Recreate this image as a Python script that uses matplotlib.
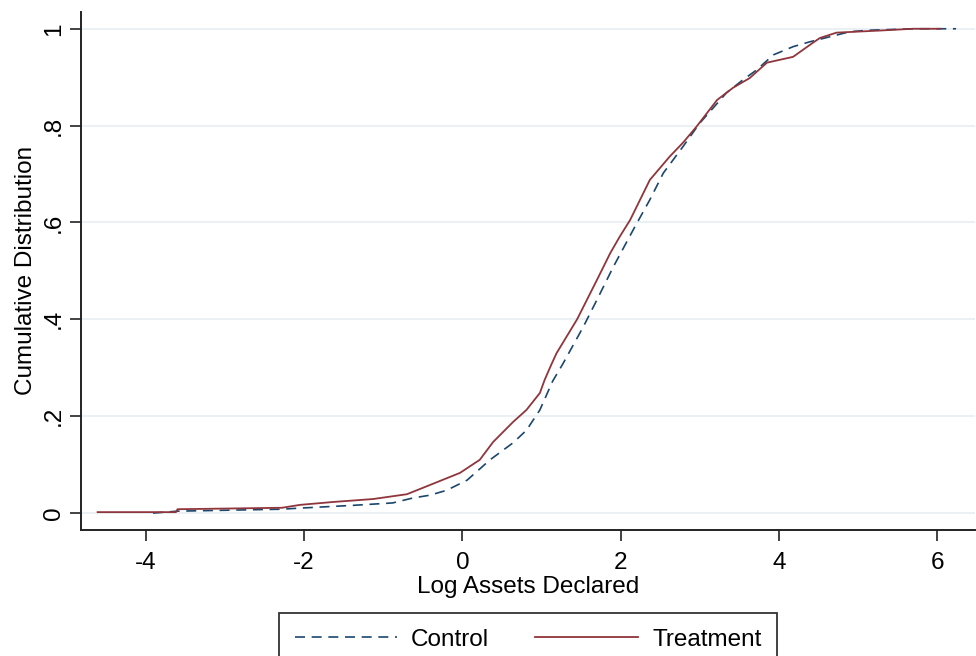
import numpy as np
import matplotlib.pyplot as plt

# Cumulative distribution of log assets
x_ctrl = [-3.91, -3.60, -2.30, -1.97, -1.38, -0.88, -0.63, -0.41, -0.20, 0.06, 0.35,
          0.64, 0.81, 0.98, 1.14, 1.27, 1.53, 1.70, 1.91, 2.16, 2.37, 2.54, 2.79,
          3.00, 3.34, 3.55, 3.72, 3.93, 4.18, 4.39, 4.90, 5.15, 5.70, 6.24]
F_ctrl = [0.000, 0.004, 0.008, 0.011, 0.016, 0.021, 0.031, 0.037, 0.047, 0.068, 0.110,
          0.145, 0.171, 0.213, 0.272, 0.308, 0.385, 0.440, 0.509, 0.585, 0.647, 0.702, 0.757,
          0.805, 0.868, 0.895, 0.915, 0.946, 0.963, 0.973, 0.994, 0.997, 1.000, 1.000]

x_treat = [-4.61, -3.62, -3.60, -2.28, -2.05, -1.63, -1.13, -0.70, -0.41, -0.03, 0.22,
           0.39, 0.64, 0.81, 0.98, 1.04, 1.12, 1.19, 1.45, 1.70, 1.87, 1.99, 2.12, 2.37,
           2.62, 2.79, 2.96, 3.22, 3.42, 3.63, 3.85, 4.18, 4.43, 4.52, 4.73, 5.24, 5.70, 6.04]
F_treat = [0.002, 0.002, 0.008, 0.011, 0.017, 0.023, 0.029, 0.039, 0.058, 0.083, 0.110,
           0.147, 0.188, 0.213, 0.248, 0.275, 0.305, 0.330, 0.400, 0.481, 0.537, 0.571, 0.605, 0.688,
           0.736, 0.765, 0.798, 0.853, 0.878, 0.898, 0.930, 0.942, 0.971, 0.981, 0.992, 0.996, 1.000, 1.000]

xticks = [-4, -2, 0, 2, 4, 6]
yticks = [0, 0.2, 0.4, 0.6, 0.8, 1]
ylabels = ['0', '.2', '.4', '.6', '.8', '1']

plt.rcParams['font.family'] = ['Liberation Sans', 'DejaVu Sans']
plt.rcParams['axes.unicode_minus'] = False

fig = plt.figure(figsize=(9.76, 6.56), dpi=100)
ax = fig.add_axes([0.083, 0.192, 0.916, 0.79])

navy = '#1A476F'
maroon = '#90353B'

ax.plot(x_ctrl, F_ctrl, color=navy, lw=1.2, ls=(0, (6, 4)), label='Control')
ax.plot(x_treat, F_treat, color=maroon, lw=1.3, label='Treatment')

ax.set_xlim(-4.82, 6.48)
ax.set_ylim(-0.035, 1.035)
ax.set_xticks(xticks)
ax.set_yticks(yticks)
ax.set_yticklabels(ylabels, rotation=90, va='center')
ax.tick_params(labelsize=17.5, length=8, width=1.2, color='#222222', direction='out')
ax.tick_params(axis='x', pad=8)

#Grid and spines
ax.grid(axis='y', color='#E6EEF1', lw=1.2)
ax.set_axisbelow(True)
for s in ['top', 'right']:
    ax.spines[s].set_visible(False)
for s in ['left', 'bottom']:
    ax.spines[s].set_linewidth(1.4)
    ax.spines[s].set_color('#222222')

ax.set_xlabel('Log Assets Declared', fontsize=17.5, labelpad=1)
ax.set_ylabel('Cumulative Distribution', fontsize=17.5, labelpad=4)

leg = fig.legend(loc='upper center', bbox_to_anchor=(0.541, 0.066), ncol=2,
                 fontsize=17.5, frameon=True, fancybox=False, edgecolor='black',
                 handlelength=4.2, handletextpad=0.6, columnspacing=1.9,
                 borderpad=0.65, borderaxespad=0)
leg.get_frame().set_linewidth(1.3)

fig.savefig('out.png', dpi=100)
